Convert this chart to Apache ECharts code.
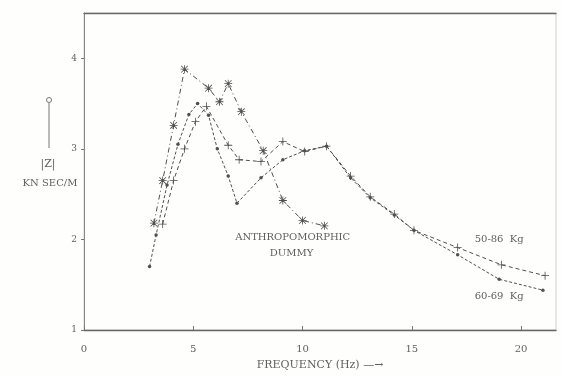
<!DOCTYPE html>
<html>
<head>
<meta charset="utf-8">
<script src="https://cdn.jsdelivr.net/npm/echarts@6/dist/echarts.min.js"></script>
<style>
  html, body { margin: 0; padding: 0; background: #fefefd; }
  #chart { width: 562px; height: 376px; }
</style>
</head>
<body>
<div id="chart"></div>
<script>
// frequency (Hz) and |Z| (KN SEC/M)
const freqDummy = [3.2, 3.6, 4.1, 4.6, 5.7, 6.2, 6.6, 7.2, 8.2, 9.1, 10.0, 11.0];
const zDummy    = [2.18, 2.65, 3.26, 3.88, 3.67, 3.52, 3.72, 3.41, 2.98, 2.43, 2.21, 2.15];

const freq5086 = [3.6, 4.1, 4.6, 5.1, 5.6, 6.6, 7.1, 8.1, 9.1, 10.1, 11.1, 12.2, 13.1, 14.2, 15.1, 17.1, 19.1, 21.1];
const z5086    = [2.17, 2.65, 3.0, 3.3, 3.47, 3.04, 2.88, 2.86, 3.08, 2.97, 3.03, 2.7, 2.47, 2.28, 2.1, 1.91, 1.72, 1.6];

const freq6069 = [3.0, 3.3, 3.8, 4.3, 4.8, 5.2, 5.7, 6.1, 6.6, 7.0, 8.1, 9.1, 10.1, 11.1, 12.2, 13.1, 14.2, 15.1, 17.1, 19.0, 21.0];
const z6069    = [1.7, 2.05, 2.6, 3.05, 3.38, 3.5, 3.37, 3.0, 2.7, 2.4, 2.68, 2.88, 2.98, 3.03, 2.68, 2.46, 2.27, 2.1, 1.83, 1.56, 1.44];

const xTicks = [0, 5, 10, 15, 20];
const yTicks = [1, 2, 3, 4];

// text notes, placed in data units
const notes = [
  { text: 'ANTHROPOMORPHIC', x: 9.55, y: 2.02 },
  { text: 'DUMMY', x: 9.5, y: 1.85 },
  { text: '50-86  Kg', x: 19.0, y: 2.0 },
  { text: '60-69  Kg', x: 19.0, y: 1.37 }
];

const pair = (xs, ys) => xs.map((x, i) => [x, ys[i]]);

const ink = '#505050';
const textInk = '#5f5f5f';
const font = 'DejaVu Serif';

const plusPath = 'path://M0.45,0H0.55V0.45H1V0.55H0.55V1H0.45V0.55H0V0.45H0.45Z';
const starPath = 'path://M0.45,0H0.55V0.45H1V0.55H0.55V1H0.45V0.55H0V0.45H0.45Z' +
  'M0.12,0.05L0.95,0.88L0.88,0.95L0.05,0.12Z M0.88,0.05L0.95,0.12L0.12,0.95L0.05,0.88Z';

const chart = echarts.init(document.getElementById('chart'));

const option = {
  backgroundColor: '#fefefd',
  animation: false,
  grid: {
    left: 84, right: 6, top: 13, bottom: 43,
    show: true,
    borderColor: '#d0d0d0',
    borderWidth: 1
  },
  xAxis: [
    {
      type: 'value',
      min: 0, max: 21.6, interval: 5,
      splitLine: { show: false },
      axisLine: { lineStyle: { color: '#666', width: 1.3 } },
      axisTick: { inside: true, length: 4, lineStyle: { color: '#777' } },
      axisLabel: {
        margin: 14, color: textInk, fontFamily: font, fontSize: 10,
        showMaxLabel: false,
        formatter: v => (xTicks.includes(v) ? String(v) : '')
      },
      name: 'FREQUENCY (Hz) \u2014\u2192',
      nameLocation: 'middle',
      nameGap: 30,
      nameTextStyle: { color: textInk, fontFamily: font, fontSize: 11 }
    },
    {
      // top frame line
      type: 'value', position: 'top',
      min: 0, max: 21.6,
      splitLine: { show: false },
      axisLine: { lineStyle: { color: '#6a6a6a', width: 1.3 } },
      axisTick: { show: false },
      axisLabel: { show: false }
    }
  ],
  yAxis: {
    type: 'value',
    min: 1, max: 4.5, interval: 1,
    splitLine: { show: false },
    axisLine: { show: true, lineStyle: { color: '#888', width: 1 } },
    axisTick: { show: true, length: 3, lineStyle: { color: '#777' } },
    axisLabel: {
      margin: 7, color: textInk, fontFamily: font, fontSize: 9,
      showMaxLabel: false,
      formatter: v => (yTicks.includes(v) ? String(v) : '')
    }
  },
  series: [
    {
      name: 'ANTHROPOMORPHIC DUMMY',
      type: 'line',
      data: pair(freqDummy, zDummy),
      symbol: starPath,
      symbolSize: 8,
      itemStyle: { color: ink },
      lineStyle: { color: ink, width: 1, type: [5, 3, 1, 3] }
    },
    {
      name: '50-86 Kg',
      type: 'line',
      data: pair(freq5086, z5086),
      symbol: plusPath,
      symbolSize: 8,
      itemStyle: { color: ink },
      lineStyle: { color: ink, width: 1, type: [4, 3] }
    },
    {
      name: '60-69 Kg',
      type: 'line',
      data: pair(freq6069, z6069),
      symbol: 'circle',
      symbolSize: 3.5,
      itemStyle: { color: ink },
      lineStyle: { color: ink, width: 1, type: [3, 2] }
    }
  ]
};

chart.setOption(option);

// y-axis caption (arrow, |Z| and units) left of the axis, plus text notes
const noteGraphics = notes.map(n => {
  const p = chart.convertToPixel({ gridIndex: 0 }, [n.x, n.y]);
  return {
    type: 'text',
    x: p[0], y: p[1],
    style: {
      text: n.text, fill: textInk, font: '10px "' + font + '"',
      align: 'center', verticalAlign: 'middle'
    }
  };
});

chart.setOption({
  graphic: [
    { type: 'line', shape: { x1: 49, y1: 103, x2: 49, y2: 148 }, style: { stroke: '#777', lineWidth: 1 } },
    { type: 'circle', shape: { cx: 49, cy: 100, r: 2.5 }, style: { fill: 'none', stroke: '#777', lineWidth: 1 } },
    {
      type: 'text', x: 48, y: 164,
      style: { text: '|Z|', fill: textInk, font: '11px "' + font + '"', align: 'center', verticalAlign: 'middle' }
    },
    {
      type: 'text', x: 50, y: 183,
      style: { text: 'KN SEC/M', fill: textInk, font: '10px "' + font + '"', align: 'center', verticalAlign: 'middle' }
    }
  ].concat(noteGraphics)
});
</script>
</body>
</html>
